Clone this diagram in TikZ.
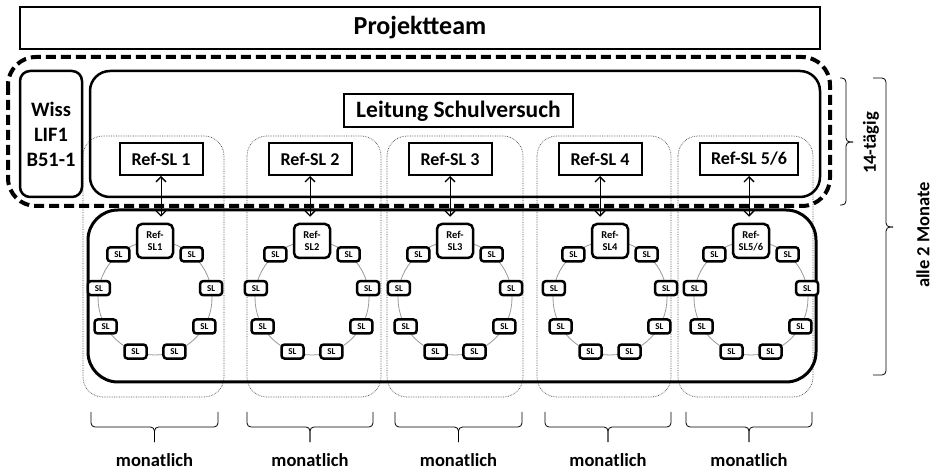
\documentclass[tikz,border=0pt]{standalone}
\usepackage{fontspec}
\setmainfont{Carlito}
\usepackage{tikz}
\usetikzlibrary{positioning,arrows.meta,calc}
\tikzset{
  teambox/.style={draw, line width=2pt, minimum width=800pt, minimum height=42pt, inner sep=0pt, font=\fontsize{26}{30}\selectfont\bfseries},
  groupframe/.style={draw, line width=4pt, dash pattern=on 10pt off 5pt, rounded corners=28pt},
  leadframe/.style={draw, line width=2.5pt, rounded corners=20pt},
  wissbox/.style={draw, line width=2.5pt, rounded corners=10pt, minimum width=62pt, minimum height=126pt, inner sep=0pt, align=center, font=\fontsize{20.5}{25}\selectfont\bfseries},
  lsvbox/.style={draw, line width=2pt, minimum width=229pt, minimum height=33pt, inner sep=0pt, font=\fontsize{23.5}{26}\selectfont\bfseries},
  refbox/.style={draw, line width=2pt, minimum height=32pt, inner sep=0pt, font=\fontsize{18}{21}\selectfont\bfseries},
  colframe/.style={draw, black!70, densely dotted, line width=0.7pt, rounded corners=20pt},
  ringframe/.style={draw, line width=3pt, rounded corners=30pt},
  ring/.style={draw, gray!80, line width=0.8pt},
  hubnode/.style={draw, fill=white, line width=2.5pt, rounded corners=5pt, minimum width=36pt, minimum height=34pt, inner sep=0pt, align=center, font=\fontsize{10.5}{12}\selectfont\bfseries},
  slnode/.style={draw, fill=white, line width=2.5pt, rounded corners=3pt, minimum width=22pt, minimum height=14pt, inner sep=0pt, font=\fontsize{9}{10}\selectfont\bfseries},
  linkarrow/.style={{Straight Barb[length=5pt,width=10pt,line width=1.4pt]}-{Straight Barb[length=5pt,width=10pt,line width=1.4pt]}, line width=0.8pt},
  bracket/.style={draw, line width=0.8pt, rounded corners=4pt},
  cyclelabel/.style={font=\fontsize{18.5}{21}\selectfont\bfseries}
}

\begin{document}
\begin{tikzpicture}[x=1pt, y=-1pt]
  \useasboundingbox[fill=white] (0,0) rectangle (935,470);

  % Spalten je Referenzschule
  \foreach \cl/\cr in {83/224, 247/381, 387/523, 537/671, 678/813}
    \draw[colframe] (\cl,136) rectangle (\cr,397);

  % Projektteam und Gremium
  \node[teambox] (team) at (420,28) {Projektteam};
  \draw[groupframe] (8,57) rectangle (830,206);
  \node[wissbox] (wiss) at (51,134) {Wiss\\LIF1\\B51-1};
  \draw[leadframe] (90,71) rectangle (820,197);
  \node[lsvbox] (lsv) at (458.5,111) {Leitung Schulversuch};

  % Netz der Schulleitungen
  \draw[ringframe] (88,210) rectangle (816,382);
  \foreach \k/\cx/\rx/\rw/\lab/\hublab in {
      1/155/161/83/{Ref-SL 1}/{Ref-\\SL1},
      2/312/310/83/{Ref-SL 2}/{Ref-\\SL2},
      3/455/450/83/{Ref-SL 3}/{Ref-\\SL3},
      4/610/600/83/{Ref-SL 4}/{Ref-\\SL4},
      5/751/749/98/{Ref-SL 5/6}/{Ref-\\SL5/6}} {
    \node[refbox, minimum width=\rw pt] (ref\k) at (\rx,159) {\lab};
    \draw[ring] (\cx,298) circle[radius=57pt];
    \node[hubnode] (hub\k) at (\cx,241) {\hublab};
    \foreach \j in {1,...,8}
      \node[slnode] (sl\k-\j) at ([shift={(90+40*\j:57pt)}]\cx,298) {SL};
    \draw[linkarrow, shorten >=6pt] (ref\k.south) -- (ref\k.south |- hub\k.north);
  }

  % Sitzungsrhythmus
  \foreach \bl/\br [count=\i] in {91/218, 247/373, 395/522, 545/671, 686/812} {
    \coordinate (tip\i) at ($(\bl,442)!0.5!(\br,442)$);
    \draw[bracket] (\bl,412) -- (\bl,427) -- (tip\i |- 0,427) -- (tip\i);
    \draw[bracket] (\br,412) -- (\br,427) -- (tip\i |- 0,427) -- (tip\i);
    \node[cyclelabel] (mon\i) at ($(tip\i)+(0,18)$) {monatlich};
  }
  \draw[bracket] (840,78) -- (846,78) -- (846,142) -- (853,142);
  \draw[bracket] (840,205) -- (846,205) -- (846,142) -- (853,142);
  \node[cyclelabel, rotate=90] (twoweek) at (871,143) {14-tägig};
  \draw[bracket] (873,78) -- (886,78) -- (886,227) -- (893,227);
  \draw[bracket] (873,375) -- (886,375) -- (886,227) -- (893,227);
  \node[cyclelabel, rotate=90] (twomonth) at (923,235) {alle 2 Monate};
\end{tikzpicture}
\end{document}
